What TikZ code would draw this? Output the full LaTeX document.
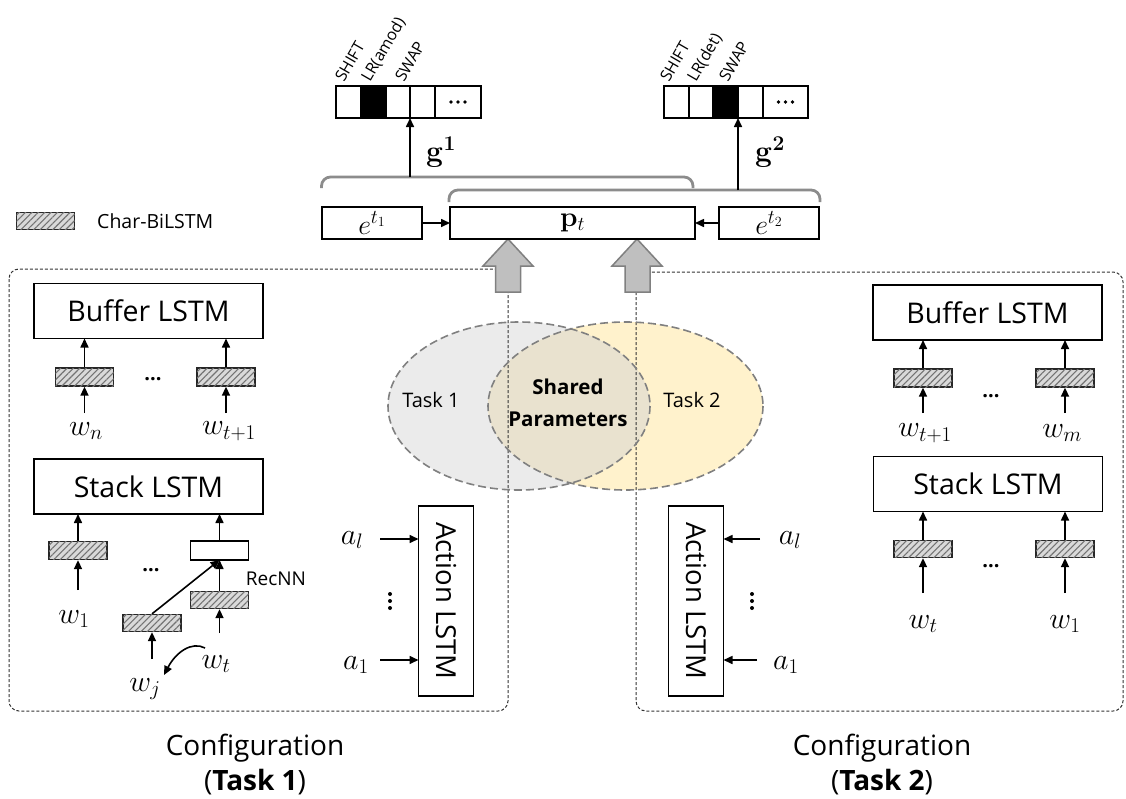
\RequirePackage{fix-cm}
\documentclass[tikz,border=0pt]{standalone}
\usepackage[no-math]{fontspec}
\setmainfont{Open Sans}
\usepackage{graphicx}
\usetikzlibrary{arrows.meta,patterns.meta}
\newcommand{\fsz}[1]{\fontsize{#1}{#1}\selectfont}

\begin{document}
\begin{tikzpicture}[x=1pt,y=-1pt,
  arr/.style={line width=1.6pt,-{Triangle[length=9pt,width=8pt]}},
  boxed/.style={draw,line width=1.5pt,inner sep=0pt,outer sep=0pt},
  lstm/.style={boxed,minimum width=229pt,minimum height=55pt,font=\fsz{28.5}},
  hatch/.style={draw=black!85,line width=1.3pt,fill=black!15,inner sep=0pt,
    minimum width=58pt,minimum height=18pt,
    postaction={pattern={Lines[angle=45,distance=4.5pt,line width=1.1pt]},pattern color=black!55}},
  recbox/.style={boxed,minimum width=58pt,minimum height=19pt},
  cell/.style={boxed,minimum height=32pt,minimum width=25pt},
  vlab/.style={inner sep=0pt,font=\fsz{16}},
  wlab/.style={inner sep=0pt,font=\fsz{30}},
  glab/.style={inner sep=0pt,font=\fsz{30}},
  ebox/.style={boxed,minimum width=100pt,minimum height=32pt,font=\fsz{28}},
  dotsx/.style={inner sep=0pt,font=\fsz{20}\bfseries},
  small/.style={inner sep=0pt,font=\fsz{20}},
  cfg/.style={draw=black!80,line width=1pt,dash pattern=on 3pt off 2pt,rounded corners=10pt},
  ellb/.style={draw=black!50,line width=1.6pt,dash pattern=on 8pt off 4pt},
  blk/.style={fill=black!25,draw=black!50,line width=1.5pt},
  brk/.style={draw=black!45,line width=2.8pt,rounded corners=9pt},
  actbox/.style={boxed,minimum width=55pt,minimum height=190pt,font=\fsz{27.5}},
  cfglab/.style={align=center,font=\fontsize{28}{35}\selectfont}
]
\useasboundingbox (0,0) rectangle (1126,798);

% task ellipses: fills and their overlap
\fill[black!8] (519,406) ellipse [x radius=131, y radius=84];
\fill[fill={rgb,255:red,255;green,242;blue,204}] (625.5,406) ellipse [x radius=137.5, y radius=84];
\begin{scope}
  \clip (519,406) ellipse [x radius=131, y radius=84];
  \fill[fill={rgb,255:red,233;green,226;blue,207}] (625.5,406) ellipse [x radius=137.5, y radius=84];
\end{scope}

% configuration frames
\draw[cfg] (9,269) rectangle (508,711);
\draw[cfg] (636,272) rectangle (1123,711);

% ellipse outlines and labels
\draw[ellb] (519,406) ellipse [x radius=131, y radius=84];
\draw[ellb] (625.5,406) ellipse [x radius=137.5, y radius=84];
\node[small] (task1) at (431,400) {Task 1};
\node[small,align=center,font=\fontsize{20.5}{32}\selectfont\bfseries] (shared) at (568,403) {Shared\\Parameters};
\node[small] (task2) at (692,400) {Task 2};

% block arrows into the parser state
\filldraw[blk] (508,239) -- (533,266) -- (520.5,266) -- (520.5,292) -- (495.5,292) -- (495.5,266) -- (483,266) -- cycle;
\filldraw[blk] (637,239) -- (662,266) -- (650,266) -- (650,292) -- (625,292) -- (625,266) -- (612,266) -- cycle;

% legend
\node[hatch,minimum height=17pt] (leg) at (45.5,221) {};
\node[anchor=west,inner sep=0pt,font=\fsz{19.5}] (legt) at (97,221) {Char-BiLSTM};

% state vector and task embeddings
\node[ebox] (e1) at (372,223) {$e^{t_1}$};
\node[ebox,minimum width=245pt] (p) at (572.5,223) {$\mathbf{p}_t$};
\node[ebox] (e2) at (769,223) {$e^{t_2}$};
\draw[arr] (e1) -- (p);
\draw[arr] (e2) -- (p);

% brackets grouping the inputs of each classifier
\draw[brk] (321.5,188) |- (693,177) -- (693,188);
\draw[brk] (449,202) |- (820,190) -- (820,202);
\coordinate (br1) at (410,177);
\coordinate (br2) at (738,190);

% output distributions
\node[cell] (c11) at (348.5,102) {};
\node[cell,fill=black] (c12) at (373.5,102) {};
\node[cell,minimum width=24pt] (c13) at (398,102) {};
\node[cell] (c14) at (422.5,102) {};
\node[cell,minimum width=46pt] (c15) at (458,102) {};
\node[cell] (c21) at (676.5,102) {};
\node[cell,minimum width=24pt] (c22) at (701,102) {};
\node[cell,fill=black] (c23) at (725.5,102) {};
\node[cell] (c24) at (750.5,102) {};
\node[cell,minimum width=45pt] (c25) at (785.5,102) {};
\foreach \d in {-7,0,7} {
  \fill ([xshift=\d pt]c15.center) circle (1.8pt);
  \fill ([xshift=\d pt]c25.center) circle (1.8pt);
}
\node[vlab,rotate=60,anchor=base west] (l11) at (344,83) {SHIFT};
\node[vlab,rotate=60,anchor=base west] (l12) at (370,83) {LR(amod)};
\node[vlab,rotate=60,anchor=base west] (l13) at (404,83) {SWAP};
\node[vlab,rotate=60,anchor=base west] (l21) at (669,83) {SHIFT};
\node[vlab,rotate=60,anchor=base west] (l22) at (696,83) {LR(det)};
\node[vlab,rotate=60,anchor=base west] (l23) at (728,83) {SWAP};
\draw[arr] (br1) -- (c14.south west);
\draw[arr] (br2) -- (c24.south west);
\node[glab] (g1) at (441,152) {$\mathbf{g}^{\mathbf{1}}$};
\node[glab] (g2) at (770,152) {$\mathbf{g}^{\mathbf{2}}$};

% ---- left configuration ----
\node[lstm] (bufL) at (148.5,311) {Buffer LSTM};
\node[hatch] (hbL1) at (84.5,377) {};
\node[hatch] (hbL2) at (226,377) {};
\node[dotsx] (dbL) at (153,379) {...};
\draw[arr] (hbL1) -- (hbL1 |- bufL.south);
\draw[arr] (hbL2) -- (hbL2 |- bufL.south);
\coordinate (tnL) at (84.5,413);
\coordinate (tt1L) at (226,413);
\draw[arr] (tnL) -- (hbL1);
\draw[arr] (tt1L) -- (hbL2);
\node[wlab] (wnL) at (86,431) {$w_n$};
\node[wlab] (wt1L) at (229,431) {$w_{t+1}$};

\node[lstm] (stkL) at (148.5,486.5) {Stack LSTM};
\node[hatch] (hsL1) at (78,550.5) {};
\node[recbox] (rec) at (219.5,550.5) {};
\node[hatch,minimum height=17pt] (hsL2) at (219.5,600) {};
\node[hatch,minimum height=17pt] (hsL3) at (152,623) {};
\node[dotsx] (dsL) at (151,570) {...};
\node[small,font=\fsz{19}] (recl) at (276,579) {RecNN};
\draw[arr] (hsL1) -- (hsL1 |- stkL.south);
\draw[arr] (rec) -- (rec |- stkL.south);
\draw[arr] (hsL2) -- (rec.south);
\draw[arr] (hsL3.north) -- (rec.south);
\coordinate (tw1L) at (78,590);
\coordinate (twtL) at (219.5,633);
\coordinate (twjL) at (152,659);
\draw[arr] (tw1L) -- (hsL1);
\draw[arr] (twtL) -- (hsL2);
\draw[arr] (twjL) -- (hsL3);
\node[wlab] (w1L) at (74,619) {$w_1$};
\node[wlab] (wtL) at (216,664) {$w_t$};
\node[wlab] (wjL) at (145,689) {$w_j$};
\coordinate (cs) at (205,648);
\coordinate (ce) at (164,675);
\draw[arr] (cs) .. controls (192,641) and (176,652) .. (ce);

\node[actbox] (actL) at (446,601) {\rotatebox{-90}{Action LSTM}};
\node[wlab] (alL) at (352,540) {$a_l$};
\node[wlab] (a1L) at (356,665) {$a_1$};
\foreach \d in {-7,0,7} \fill (390,601+\d) circle (2pt);
\coordinate (talL) at (380,539);
\coordinate (ta1L) at (380,660);
\draw[arr] (talL) -- (talL -| actL.west);
\draw[arr] (ta1L) -- (ta1L -| actL.west);

\node[cfglab] (cfgL) at (255,764) {Configuration\\(\textbf{Task 1})};

% ---- right configuration ----
\node[lstm] (bufR) at (987.5,312.5) {Buffer LSTM};
\node[hatch] (hbR1) at (923,378) {};
\node[hatch] (hbR2) at (1065,378) {};
\node[dotsx] (dbR) at (991,396) {...};
\draw[arr] (hbR1) -- (hbR1 |- bufR.south);
\draw[arr] (hbR2) -- (hbR2 |- bufR.south);
\coordinate (tt1R) at (923,413);
\coordinate (tmR) at (1065,413);
\draw[arr] (tt1R) -- (hbR1);
\draw[arr] (tmR) -- (hbR2);
\node[wlab] (wt1R) at (925,433) {$w_{t+1}$};
\node[wlab] (wmR) at (1062,433) {$w_m$};

\node[lstm] (stkR) at (988,484) {Stack LSTM};
\node[hatch,minimum height=17pt] (hsR1) at (923,549) {};
\node[hatch,minimum height=17pt] (hsR2) at (1065,549) {};
\node[dotsx] (dsR) at (991,566) {...};
\draw[arr] (hsR1) -- (hsR1 |- stkR.south);
\draw[arr] (hsR2) -- (hsR2 |- stkR.south);
\coordinate (ttR) at (923,593);
\coordinate (t1R) at (1065,593);
\draw[arr] (ttR) -- (hsR1);
\draw[arr] (t1R) -- (hsR2);
\node[wlab] (wtR) at (923,624) {$w_t$};
\node[wlab] (w1R) at (1065,624) {$w_1$};

\node[actbox] (actR) at (696,601) {\rotatebox{-90}{Action LSTM}};
\node[wlab] (alR) at (790,540) {$a_l$};
\node[wlab] (a1R) at (786,665) {$a_1$};
\foreach \d in {-7,0,7} \fill (752,601+\d) circle (2pt);
\coordinate (talR) at (760,539);
\coordinate (ta1R) at (757,660);
\draw[arr] (talR) -- (talR -| actR.east);
\draw[arr] (ta1R) -- (ta1R -| actR.east);

\node[cfglab] (cfgR) at (882,764) {Configuration\\(\textbf{Task 2})};
\end{tikzpicture}
\end{document}
